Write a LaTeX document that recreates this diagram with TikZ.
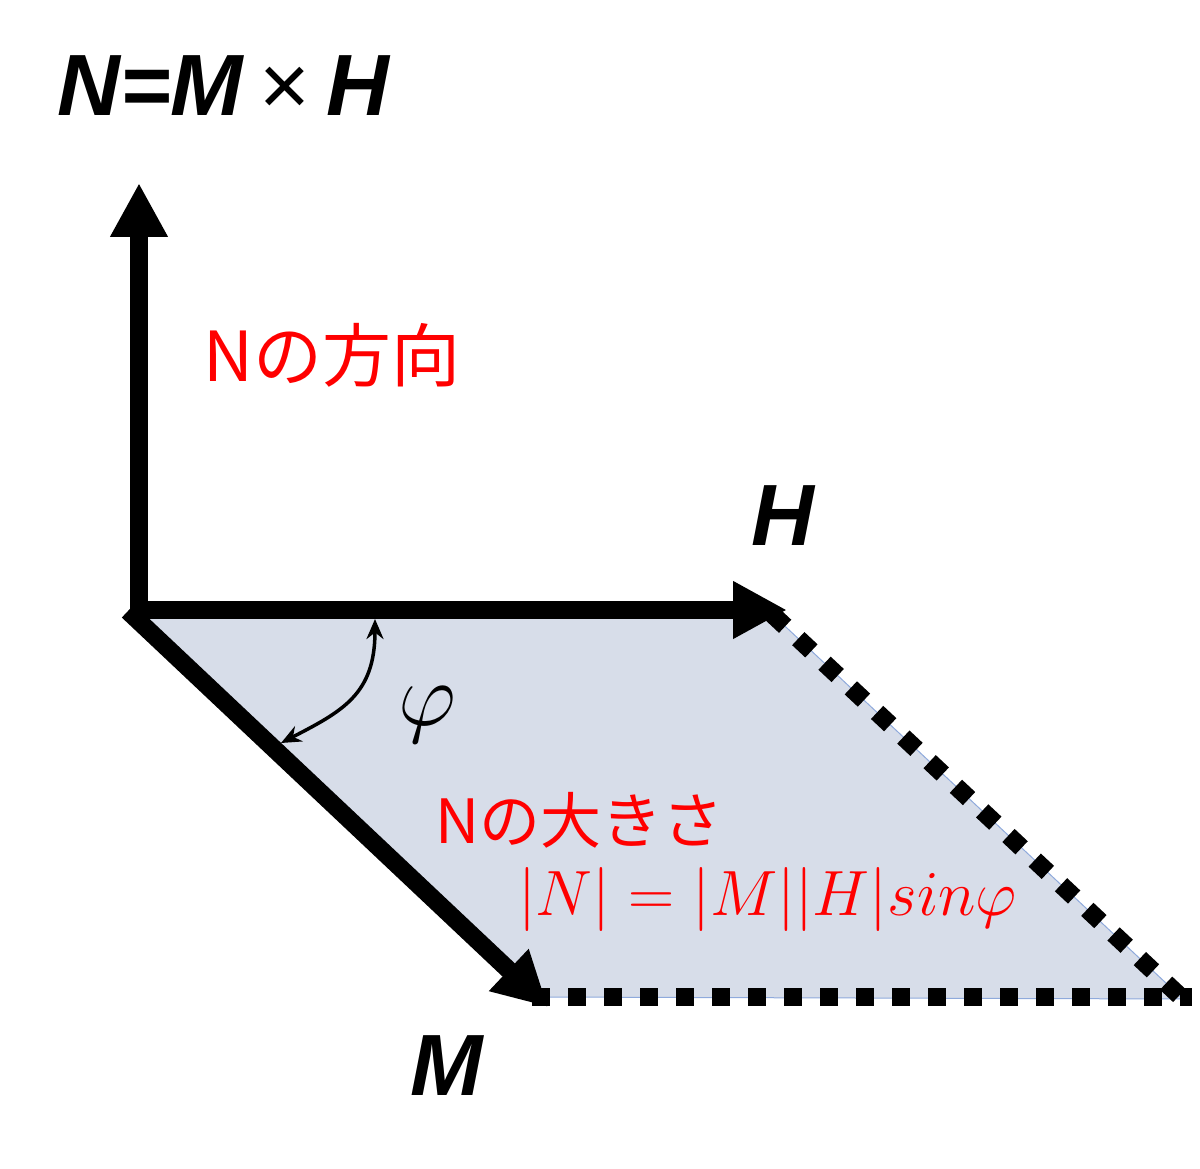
\RequirePackage{fix-cm}
\documentclass[tikz,border=0pt]{standalone}
\usepackage{fontspec}
\setmainfont{Liberation Sans}
\newfontfamily\jpfont{Noto Sans CJK JP}
\usetikzlibrary{arrows.meta}
\definecolor{planefill}{RGB}{215,221,233}
\definecolor{planeedge}{RGB}{143,170,220}

\begin{document}
\begin{tikzpicture}[x=1pt, y=-1pt,
    vec/.style={line width=18pt, -{Triangle[length=54pt, width=54pt]}},
    edgedash/.style={line width=18pt, dash pattern=on 18pt off 18pt},
    angarrow/.style={line width=3.5pt, {Stealth[length=20pt, width=17pt]}-{Stealth[length=20pt, width=17pt]}},
    veclabel/.style={font=\fontsize{87}{87}\selectfont\bfseries\itshape, inner sep=0pt, anchor=base west},
    redlabel/.style={text=red, inner sep=0pt, anchor=base west}]
    \useasboundingbox (0,0) rectangle (1200,1169);
    % corners of the plane
    \coordinate (P1) at (135,614);
    \coordinate (P2) at (772,614);
    \coordinate (P3) at (1183,999);
    \coordinate (P4) at (532,997);
    \coordinate (Pend) at (1192,997);
    \fill[planefill] (P1) -- (P2) -- (P3) -- (P4) -- cycle;
    \draw[planeedge, line width=1pt] (P2) -- (P3) -- (P4);
    \draw[edgedash] (P2) -- (P3);
    \draw[edgedash] (P4) -- (Pend);
    % vectors
    \coordinate (Nfoot) at (139,620);
    \coordinate (Ntip) at (139,183);
    \coordinate (Hfoot) at (130,610);
    \coordinate (Htip) at (787,610);
    \coordinate (Mfoot) at (128,611);
    \coordinate (Mtip) at (548,1007);
    \draw[vec] (Nfoot) -- (Ntip);
    \draw[vec] (Hfoot) -- (Htip);
    \draw[vec] (Mfoot) -- (Mtip);
    % angle
    \coordinate (phiA) at (375,619);
    \coordinate (phiB) at (281,743);
    \draw[angarrow] (phiA) .. controls +(0,75) and +(62,-32) .. (phiB);
    \node[veclabel] (title) at (57,116) {N=M\hspace{16pt}{\mdseries\upshape ×}\hspace{16pt}H};
    \node[veclabel] (Hlabel) at (751,545) {H};
    \node[veclabel] (Mlabel) at (410,1095) {M};
    \node[inner sep=0pt, anchor=base west, font=\fontsize{90}{90}\selectfont] (philabel) at (398,725) {$\varphi$};
    \node[redlabel, font=\jpfont\fontsize{69}{69}\selectfont] (dirlabel) at (203,381) {Nの方向};
    \node[redlabel, font=\jpfont\fontsize{61}{61}\selectfont] (sizelabel) at (435,843) {Nの大きさ};
    \node[redlabel, font=\fontsize{64}{64}\selectfont] (maglabel) at (518,915) {$|N| = |M||H|sin\varphi$};
\end{tikzpicture}
\end{document}
